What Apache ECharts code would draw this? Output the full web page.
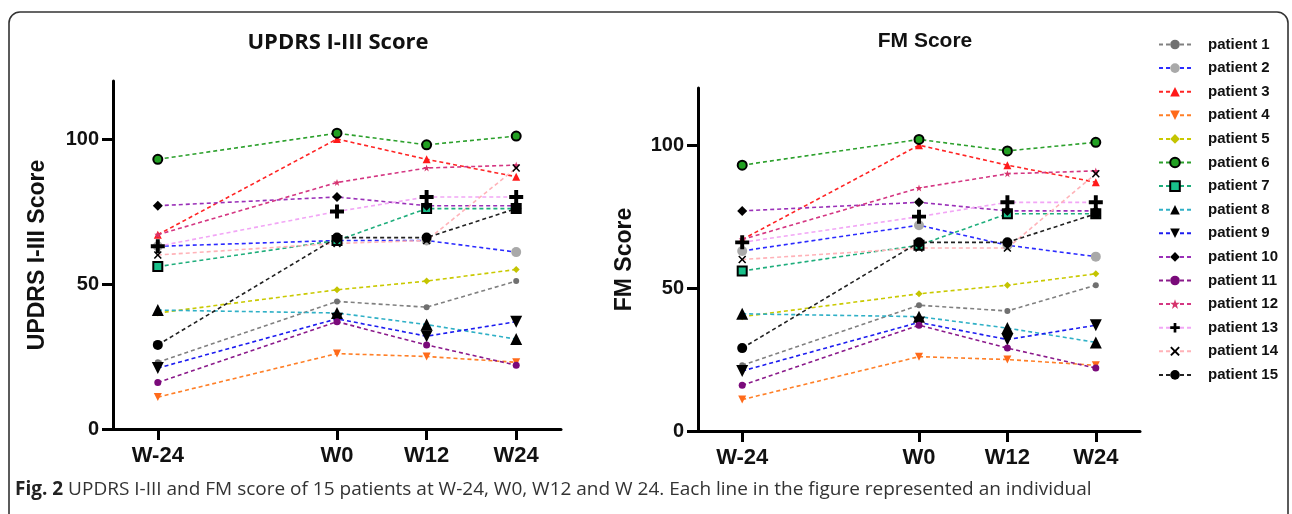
<!DOCTYPE html>
<html lang="en">
<head>
    <meta charset="UTF-8">
    <title>UPDRS and FM score</title>
    <script src="https://cdn.jsdelivr.net/npm/echarts@6/dist/echarts.min.js"></script>
    <style>
        html, body { margin: 0; padding: 0; background: #fff; }
        #myChart { width: 1292px; height: 514px; }
    </style>
</head>
<body>
<div id="myChart"></div>
<script type="text/javascript">
    // weeks of the visits
    var weeks = [-24, 0, 12, 24];
    var weekTicks = [-24, 0, 12, 24];
    var scoreTicks = [0, 50, 100];
    var patients = ['patient 1', 'patient 2', 'patient 3', 'patient 4', 'patient 5',
        'patient 6', 'patient 7', 'patient 8', 'patient 9', 'patient 10',
        'patient 11', 'patient 12', 'patient 13', 'patient 14', 'patient 15'];

    // UPDRS I-III score, one row per patient (W-24, W0, W12, W24)
    var updrs = [
        [23, 44, 42, 51],
        [63, 65, 65, 61],
        [67, 100, 93, 87],
        [11, 26, 25, 23],
        [40, 48, 51, 55],
        [93, 102, 98, 101],
        [56, 65, 76, 76],
        [41, 40, 36, 31],
        [21, 38, 32, 37],
        [77, 80, 77, 77],
        [16, 37, 29, 22],
        [67, 85, 90, 91],
        [63, 75, 80, 80],
        [60, 64, 65, 90],
        [29, 66, 66, 76]
    ];

    // FM score
    var fm = [
        [23, 44, 42, 51],
        [63, 72, 65, 61],
        [67, 100, 93, 87],
        [11, 26, 25, 23],
        [40, 48, 51, 55],
        [93, 102, 98, 101],
        [56, 65, 76, 76],
        [41, 40, 36, 31],
        [21, 38, 32, 37],
        [77, 80, 77, 77],
        [16, 37, 29, 22],
        [67, 85, 90, 91],
        [66, 75, 80, 80],
        [60, 64, 64, 90],
        [29, 66, 66, 76]
    ];

    var PLUS = 'path://M3.6,0H6.4V3.6H10V6.4H6.4V10H3.6V6.4H0V3.6H3.6Z';
    var CROSS = 'path://M1.4,0L5,3.6L8.6,0L10,1.4L6.4,5L10,8.6L8.6,10L5,6.4L1.4,10L0,8.6L3.6,5L0,1.4Z';
    var STAR = 'path://M5,0L6.2,3.5H10L7,5.7L8.1,9.5L5,7.2L1.9,9.5L3,5.7L0,3.5H3.8Z';

    // line colour, marker, marker size, marker fill, marker border
    var looks = [
        {line: '#808080', symbol: 'circle', size: 6, fill: '#707070'},
        {line: '#2b2bff', symbol: 'circle', size: 10, fill: '#a9a9a9'},
        {line: '#ff2424', symbol: 'triangle', size: 8, fill: '#ff1a1a'},
        {line: '#ff7f27', symbol: 'triangle', size: 8, fill: '#ff6a1a', rotate: 180},
        {line: '#c9c900', symbol: 'diamond', size: 7, fill: '#c4c400'},
        {line: '#2ca02c', symbol: 'circle', size: 9, fill: '#22a022', border: '#000'},
        {line: '#1fae7c', symbol: 'rect', size: 9, fill: '#19c08a', border: '#000'},
        {line: '#2fb0c6', symbol: 'triangle', size: 12, fill: '#000'},
        {line: '#1c1cf0', symbol: 'triangle', size: 12, fill: '#000', rotate: 180},
        {line: '#9a30b8', symbol: 'diamond', size: 10, fill: '#000'},
        {line: '#8b1a8b', symbol: 'circle', size: 7, fill: '#7a0a7a'},
        {line: '#d43682', symbol: STAR, size: 7, fill: '#d6336c'},
        {line: '#f2a6f6', symbol: PLUS, size: 14, fill: '#000'},
        {line: '#ffb2b8', symbol: CROSS, size: 8, fill: '#000'},
        {line: '#222222', symbol: 'circle', size: 10, fill: '#000'}
    ];

    var axisFont = 'Liberation Sans, Arial, sans-serif';

    function makeSeries(values, gridIndex) {
        return patients.map(function (name, i) {
            var lk = looks[i];
            return {
                name: name,
                type: 'line',
                xAxisIndex: gridIndex,
                yAxisIndex: gridIndex,
                data: weeks.map(function (w, k) { return [w, values[i][k]]; }),
                symbol: lk.symbol,
                symbolSize: lk.size,
                symbolRotate: lk.rotate || 0,
                showAllSymbol: true,
                animation: false,
                lineStyle: {color: lk.line, width: 1.6, type: [4, 3]},
                itemStyle: {
                    color: lk.fill,
                    borderColor: lk.border || lk.fill,
                    borderWidth: lk.border ? 2 : 0
                },
                emphasis: {disabled: true}
            };
        });
    }

    function xAxisOf(gridIndex) {
        return {
            type: 'value',
            gridIndex: gridIndex,
            min: -30,
            max: 30,
            splitLine: {show: false},
            axisLine: {show: true, onZero: false, lineStyle: {color: '#000', width: 3}},
            axisTick: {show: true, customValues: weekTicks, length: 11, lineStyle: {color: '#000', width: 3}},
            axisLabel: {
                customValues: weekTicks,
                margin: 16,
                formatter: function (v) { return 'W' + v; },
                fontFamily: axisFont, fontWeight: 'bold', fontSize: 22, color: '#111'
            }
        };
    }

    function yAxisOf(gridIndex, title, gap) {
        return {
            type: 'value',
            gridIndex: gridIndex,
            min: 0,
            max: 120,
            name: title,
            nameLocation: 'middle',
            nameGap: gap,
            nameTextStyle: {fontFamily: axisFont, fontWeight: 'bold', fontSize: 23, color: '#111'},
            splitLine: {show: false},
            axisLine: {show: true, onZero: false, lineStyle: {color: '#000', width: 3}},
            axisTick: {show: true, customValues: scoreTicks, length: 11, lineStyle: {color: '#000', width: 3}},
            axisLabel: {
                customValues: scoreTicks,
                margin: 14,
                fontFamily: axisFont, fontWeight: 'bold', fontSize: 20, color: '#111'
            }
        };
    }

    var myChart = echarts.init(document.getElementById('myChart'));
    var option = {
        backgroundColor: '#fff',
        animation: false,
        title: [
            {
                text: 'UPDRS I-III Score', left: 333, top: 27, textAlign: 'center',
                textStyle: {fontFamily: 'Open Sans', fontWeight: 'bold', fontSize: 22, color: '#111'}
            },
            {
                text: 'FM Score', left: 920, top: 26, textAlign: 'center',
                textStyle: {fontFamily: axisFont, fontWeight: 'bold', fontSize: 21, color: '#111'}
            }
        ],
        legend: {
            orient: 'vertical',
            left: 1153,
            top: 32,
            itemWidth: 32,
            itemHeight: 12,
            itemGap: 8.6,
            selectedMode: false,
            data: patients,
            textStyle: {
                fontFamily: axisFont, fontWeight: 'bold', fontSize: 15, color: '#111',
                lineHeight: 14, padding: [0, 0, 0, 12]
            }
        },
        grid: [
            {left: 113, right: 731, top: 81, bottom: 85, outerBoundsMode: 'none'},
            {left: 698, right: 152, top: 88, bottom: 83, outerBoundsMode: 'none'}
        ],
        xAxis: [xAxisOf(0), xAxisOf(1)],
        yAxis: [yAxisOf(0, 'UPDRS I-III Score', 64), yAxisOf(1, 'FM Score', 62)],
        series: makeSeries(updrs, 0).concat(makeSeries(fm, 1)),
        graphic: [
            {
                type: 'rect',
                shape: {x: 9, y: 12, width: 1279, height: 540, r: 11},
                style: {fill: 'none', stroke: '#333', lineWidth: 1.6},
                silent: true
            },
            {
                type: 'text',
                x: 15,
                y: 490,
                silent: true,
                style: {
                    text: '{b|Fig. 2} UPDRS I-III and FM score of 15 patients at W-24, W0, W12 and W 24. Each line in the figure represented an individual',
                    fontFamily: 'Open Sans',
                    fontSize: 19,
                    fill: '#333',
                    verticalAlign: 'middle',
                    rich: {
                        b: {fontFamily: 'Open Sans', fontWeight: 'bold', fontSize: 19, fill: '#222'}
                    }
                }
            }
        ]
    };
    myChart.setOption(option);
</script>
</body>
</html>
